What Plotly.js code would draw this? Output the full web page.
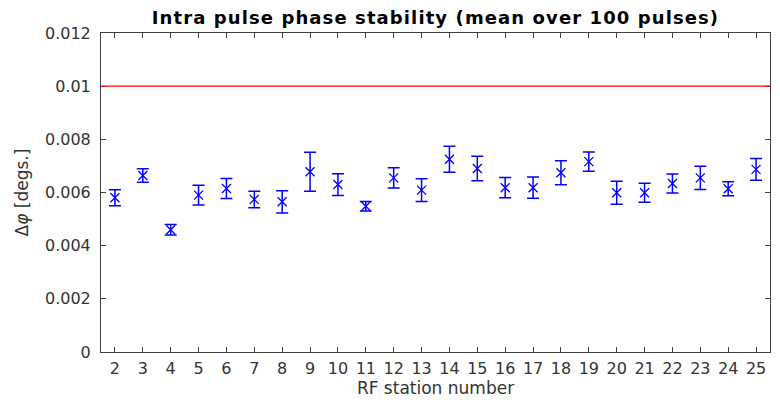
<!DOCTYPE html>
<html>
<head>
<meta charset="utf-8">
<script src="https://cdn.plot.ly/plotly-3.0.1.min.js"></script>
<style>html,body{margin:0;padding:0;background:#fff;}#chart{width:780px;height:404px;}
.gtitle{letter-spacing:1.1px;}</style>
</head>
<body>
<div id="chart"></div>
<script>
const stations = [2,3,4,5,6,7,8,9,10,11,12,13,14,15,16,17,18,19,20,21,22,23,24,25];
const meanPhase = [0.00580,0.00664,0.00460,0.00590,0.00615,0.00574,0.00565,0.00678,0.00630,0.00548,0.00655,0.00609,0.00725,0.00690,0.00618,0.00618,0.00674,0.00716,0.00599,0.00599,0.00634,0.00655,0.00614,0.00687];
const errPhase = [0.00030,0.00025,0.00020,0.00037,0.00038,0.00031,0.00042,0.00073,0.00041,0.00018,0.00038,0.00043,0.00049,0.00046,0.00038,0.00040,0.00045,0.00036,0.00043,0.00036,0.00036,0.00044,0.00026,0.00041];
const threshold = 0.01;
const yTickVals = [0,0.002,0.004,0.006,0.008,0.01,0.012];
const yTickText = ['0','0.002','0.004','0.006','0.008','0.01','0.012'];

const font = 'DejaVu Sans, sans-serif';
const trace = {
  x: stations, y: meanPhase, type: 'scatter', mode: 'markers',
  marker: {symbol: 'x-thin', size: 9, color: '#0000ff', line: {color: '#0000ff', width: 1.3}},
  error_y: {type: 'data', array: errPhase, visible: true, color: '#0000ff', thickness: 1.5, width: 6},
  showlegend: false, hoverinfo: 'x+y'
};
const axisCommon = {
  showgrid: false, zeroline: false, showline: true, linecolor: '#404040', linewidth: 1,
  mirror: 'ticks', ticks: 'inside', ticklen: 5, tickcolor: '#404040',
  tickfont: {family: font, size: 16, color: '#333333'}
};
const layout = {
  width: 780, height: 404,
  margin: {l: 101, r: 10, t: 33, b: 52},
  paper_bgcolor: '#ffffff', plot_bgcolor: '#ffffff',
  title: {text: '<b>Intra pulse phase stability (mean over 100 pulses)</b>', font: {family: font, size: 18, color: '#000'}, xref: 'paper', x: 0.5, xanchor: 'center', yref: 'container', y: 0.955, yanchor: 'middle'},
  xaxis: Object.assign({}, axisCommon, {
    range: [1.5, 25.5], tickmode: 'array', tickvals: stations, ticktext: stations.map(String),
    ticklabelstandoff: 2,
    title: {text: 'RF station number', font: {family: font, size: 17, color: '#333333'}, standoff: 1}
  }),
  yaxis: Object.assign({}, axisCommon, {
    range: [0, 0.012], tickmode: 'array', tickvals: yTickVals, ticktext: yTickText,
    ticklabelstandoff: 6,
    title: {text: 'Δ<i>φ</i> [degs.]', font: {family: font, size: 17, color: '#333333'}, standoff: 12}
  }),
  shapes: [{type: 'line', xref: 'paper', x0: 0, x1: 1, yref: 'y', y0: threshold, y1: threshold, line: {color: '#ff0000', width: 1.3}}]
};
Plotly.newPlot('chart', [trace], layout, {displayModeBar: false, staticPlot: true});
</script>
</body>
</html>
